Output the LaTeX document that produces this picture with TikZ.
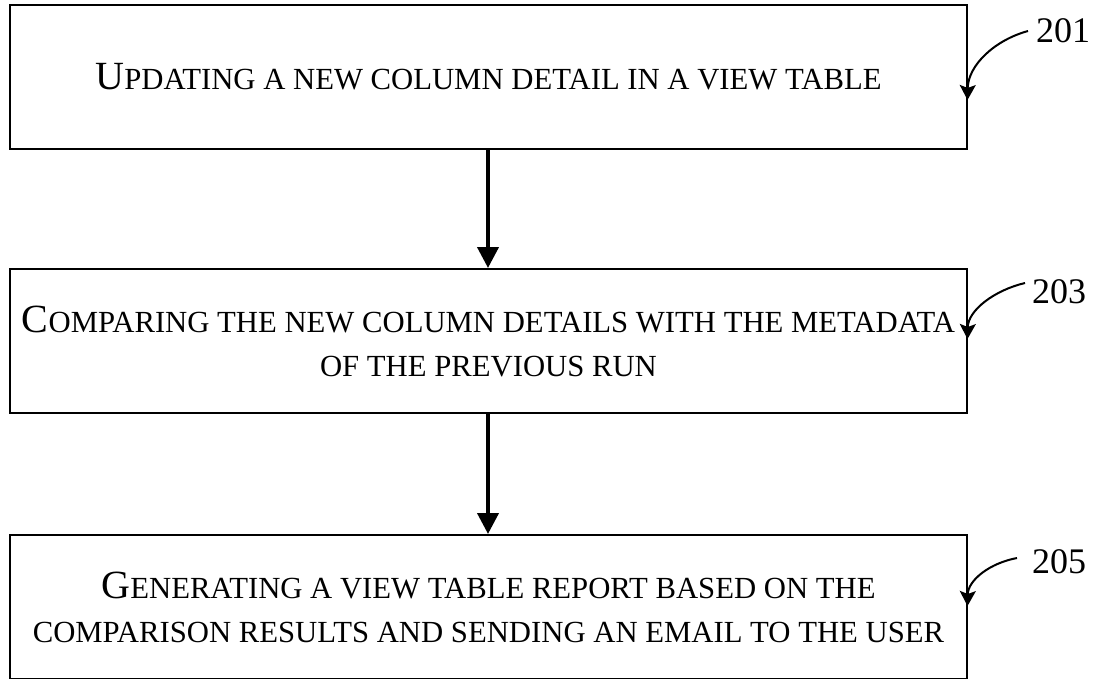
\documentclass[tikz,border=0pt]{standalone}
\usepackage{fontspec}
\setmainfont{Liberation Serif}
\usetikzlibrary{arrows.meta}
\newcommand{\BigC}[1]{{\fontsize{40}{46}\selectfont #1}}
\newcommand{\SmC}[1]{{\fontsize{30.7}{46}\selectfont #1}}
\tikzset{
  stepbox/.style={draw=black, line width=2pt, minimum width=957pt, minimum height=144pt, inner sep=0pt, align=center, font=\fontsize{30.7}{46}\selectfont},
  flow/.style={line width=4pt, -{Triangle[length=21pt,width=21pt]}},
  callout/.style={line width=2pt, -{Stealth[length=15pt,width=16pt,inset=3pt]}},
  reflabel/.style={anchor=base west, inner sep=0pt, font=\fontsize{36}{40}\selectfont}
}
\begin{document}
\begin{tikzpicture}[x=1pt,y=-1pt]
\useasboundingbox (0,0) rectangle (1097,678);
\clip (0,0) rectangle (1097,678);
\node[stepbox] (b1) at (488.5,77) {\BigC{U}\SmC{PDATING A NEW COLUMN DETAIL IN A VIEW TABLE}};
\node[stepbox] (b2) at (488.5,341) {\raisebox{0pt}[0pt][0pt]{}\BigC{C}\SmC{OMPARING THE NEW COLUMN DETAILS WITH THE METADATA}\\[-2pt]\SmC{OF THE PREVIOUS RUN}};
\node[stepbox] (b3) at (488.5,607) {\BigC{G}\SmC{ENERATING A VIEW TABLE REPORT BASED ON THE}\\[-2pt]\SmC{COMPARISON RESULTS AND SENDING AN EMAIL TO THE USER}};
\draw[flow] (b1.south -| 488,0) -- (b2.north -| 488,0);
\draw[flow] (b2.south -| 488,0) -- (b3.north -| 488,0);
\node[reflabel] (l201) at (1036,42) {201};
\node[reflabel] (l203) at (1032,303) {203};
\node[reflabel] (l205) at (1032,573) {205};
\coordinate (s201) at (1028,31);
\coordinate (t201) at (967.5,100);
\coordinate (s203) at (1025,283);
\coordinate (t203) at (967.5,339);
\coordinate (s205) at (1017,558);
\coordinate (t205) at (967.5,606);
\draw[callout] (s201) .. controls (995,40) and (968,65) .. (t201);
\draw[callout] (s203) .. controls (995,290) and (968,310) .. (t203);
\draw[callout] (s205) .. controls (990,563) and (968,580) .. (t205);
\end{tikzpicture}
\end{document}
